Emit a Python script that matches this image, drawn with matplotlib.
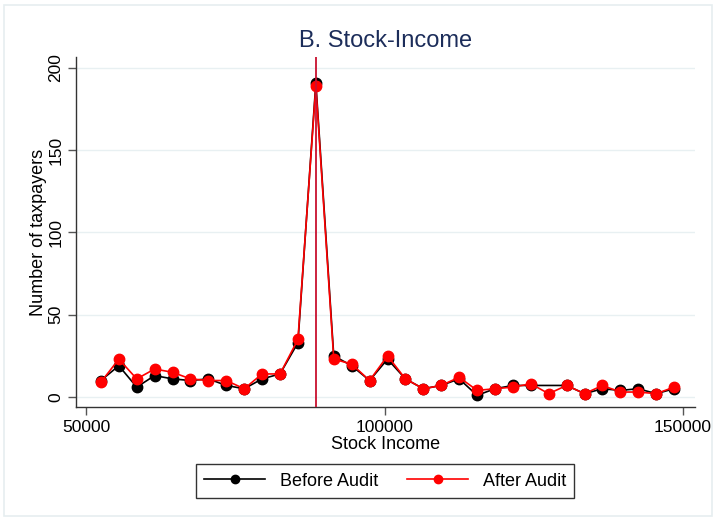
import numpy as np
import matplotlib
matplotlib.use("Agg")
import matplotlib.pyplot as plt
from matplotlib.patches import Rectangle

plt.rcParams['font.family'] = ['Liberation Sans', 'DejaVu Sans']

income = [52500 + 3000 * i for i in range(33)]
before_audit = [10, 19, 6, 13, 11, 10, 11, 7, 5, 11, 14, 33, 191, 25, 19, 10, 23, 11, 5, 7,
                11, 1, 5, 7, 7, np.nan, 7, 2, 5, 4, 5, 2, 5]
after_audit = [9, 23, 11, 17, 15, 11, 10, 10, 5, 14, 14, 35, 189, 23, 20, 10, 25, 11, 5, 7,
               12, 4, 5, 6, 8, 2, 7, 2, 7, 3, 3, 2, 6]
threshold = 88500
x_ticks = [50000, 100000, 150000]
y_ticks = [0, 50, 100, 150, 200]

W, H = 716, 520
fig = plt.figure(figsize=(W / 100, H / 100), dpi=100)
fig.patch.set_facecolor('white')
fig.add_artist(Rectangle((4 / W, 4 / H), (W - 8) / W, (H - 9) / H, transform=fig.transFigure,
                         fill=False, edgecolor='#e6eef0', lw=1.2))

ax = fig.add_axes([76 / W, 1 - 407 / H, (695 - 76) / W, (407 - 57) / H])

x_b = np.array(income, float)
yb = np.array(before_audit, float)
m = ~np.isnan(yb)
ax.plot(x_b[m], yb[m], color='black', lw=1.2, marker='o', ms=7.5, label='Before Audit', zorder=3)
ax.plot(income, after_audit, color='#ff0000', lw=1.2, marker='o', ms=7.5, label='After Audit', zorder=4)
ax.axvline(threshold, color='#c8102e', lw=1.3, zorder=5)

ax.set_xlim(48330, 152000)
ax.set_ylim(-6.1, 206.7)
ax.set_xticks(x_ticks)
ax.set_yticks(y_ticks)
ax.set_xticklabels([str(v) for v in x_ticks], fontsize=12.5)
ax.set_yticklabels([str(v) for v in y_ticks], fontsize=12.5, rotation=90, va='center')
ax.grid(axis='y', color='#e8f0f2', lw=1.0, zorder=0)
ax.set_axisbelow(True)
for s in ['top', 'right']:
    ax.spines[s].set_visible(False)
for s in ['left', 'bottom']:
    ax.spines[s].set_color('#333333')
    ax.spines[s].set_linewidth(1.0)
ax.tick_params(axis='both', length=6, width=1, color='#555555', colors='black', pad=3)
ax.tick_params(axis='both', labelcolor='black')

ax.set_xlabel('Stock Income', fontsize=13, labelpad=1)
ax.set_ylabel('Number of taxpayers', fontsize=13, labelpad=1)
ax.set_title('B. Stock-Income', fontsize=17, color='#1c2d5a', pad=7)

leg = fig.legend(loc='center', bbox_to_anchor=(385 / W, 1 - 481 / H), ncol=2, fontsize=13,
                 frameon=True, fancybox=False, edgecolor='black', handlelength=3.4,
                 columnspacing=1.6, handletextpad=0.8, borderpad=0.45, markerscale=0.8)
leg.get_frame().set_linewidth(1.0)

fig.savefig('out.png', dpi=100, facecolor='white')
